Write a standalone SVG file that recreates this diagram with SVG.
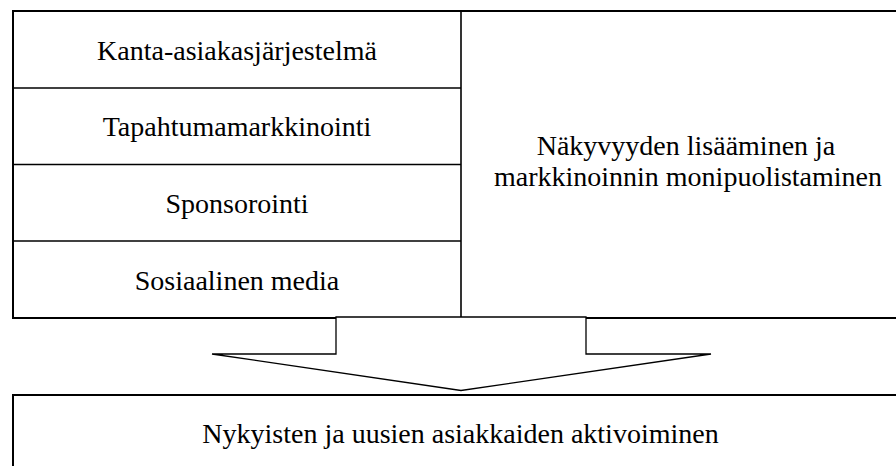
<svg xmlns="http://www.w3.org/2000/svg" width="896" height="466" viewBox="0 0 896 466">
<style>
.box{fill:#fff;stroke:#000;stroke-width:2}
.div{stroke:#000;stroke-width:1.6;fill:none}
.arr{fill:#fff;stroke:#000;stroke-width:1.3;stroke-linejoin:miter}
.t{font-family:'Liberation Serif','DejaVu Serif',serif;font-size:28px;fill:#000;text-anchor:middle}
</style>
<rect width="896" height="466" fill="#fff"/>
<g id="top-box">
<rect class="box" x="13" y="11" width="900" height="307"/>
<line class="div" x1="461" y1="11" x2="461" y2="318"/>
</g>
<g id="kanta">
<text class="t" x="237" y="60">Kanta-asiakasjärjestelmä</text>
</g>
<g id="tapahtuma">
<line class="div" x1="13" y1="88" x2="461" y2="88"/>
<text class="t" x="237" y="136">Tapahtumamarkkinointi</text>
</g>
<g id="sponsorointi">
<line class="div" x1="13" y1="164.5" x2="461" y2="164.5"/>
<text class="t" x="237" y="213">Sponsorointi</text>
</g>
<g id="some">
<line class="div" x1="13" y1="241" x2="461" y2="241"/>
<text class="t" x="237" y="290">Sosiaalinen media</text>
</g>
<g id="nakyvyys">
<text class="t" x="686" y="155">Näkyvyyden lisääminen ja</text>
<text class="t" x="688" y="186">markkinoinnin monipuolistaminen</text>
</g>
<g id="connectors">
<polygon class="arr" points="336,317 586,317 586,354 711,354 461,390.5 212,354 336,354"/>
</g>
<g id="aktivointi">
<rect class="box" x="13" y="395" width="900" height="100"/>
<text class="t" x="460.5" y="443">Nykyisten ja uusien asiakkaiden aktivoiminen</text>
</g>
</svg>
